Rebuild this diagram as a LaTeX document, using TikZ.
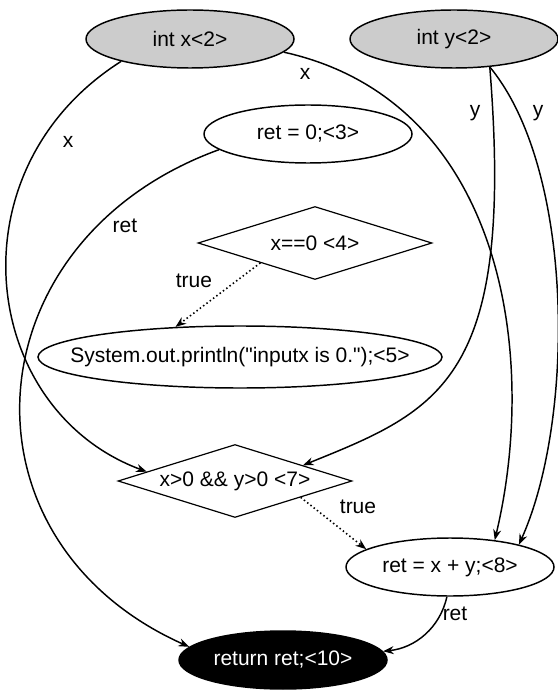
\documentclass[tikz,border=0pt]{standalone}
\usepackage{fontspec}
\newfontfamily\graphfont{Liberation Sans}
\usetikzlibrary{shapes.geometric,arrows.meta}
\definecolor{paramgray}{gray}{0.8}

\begin{document}
\begin{tikzpicture}[x=0.75pt, y=-0.75pt,
      font=\graphfont\fontsize{15.75}{18}\selectfont,
      stmt/.style={ellipse, draw, line width=1.1pt, inner sep=0pt,
        minimum width=156pt, minimum height=43.5pt},
      param/.style={stmt, fill=paramgray},
      exitnd/.style={stmt, fill=black, text=white},
      cond/.style={diamond, draw, line width=0.9pt, inner sep=0pt,
        shape aspect=3.2, minimum width=175.5pt, minimum height=54.75pt},
      lab/.style={anchor=base, inner sep=0pt},
      flow/.style={-{Stealth[length=8pt, width=6pt]}, line width=1.1pt},
      ctrl/.style={flow, dotted, line width=1.2pt}]
    \useasboundingbox (0,0) rectangle (557,691);

    % parameters
    \node[param] (ix) at (190,39) {int x<2>};
    \node[param] (iy) at (454,39) {int y<2>};
    % statements
    \node[stmt] (r0) at (308,134) {ret = 0;<3>};
    \node[cond] (c4) at (315,243) {x==0 <4>};
    \node[stmt, minimum width=303pt, minimum height=46.5pt,
      inner xsep=-22pt] (s5) at (240,357)
      {System.out.println("inputx is 0.");<5>};
    \node[cond] (c7) at (235,481) {x>0 \&\& y>0 <7>};
    \node[stmt] (r8) at (450,567) {ret = x + y;<8>};
    \node[exitnd] (rt) at (283,660) {return ret;<10>};

    % data flow
    \draw[flow] (ix.198) .. controls (-50,170) and (-20,410) .. (c7.174);
    \draw[flow] (ix.352) .. controls (500,100) and (540,350) .. (r8.31);
    \draw[flow] (iy.322) .. controls (515,380) and (440,410) .. (c7.13);
    \draw[flow] (iy.322) .. controls (575,170) and (575,420) .. (r8.18);
    \draw[flow] (r0.190) .. controls (-30,240) and (-50,540) .. (rt.172);
    \draw[flow] (r8.264) .. controls (440,628) and (415,648) .. (rt.5);
    % control flow
    \draw[ctrl] (c4.200) -- (s5.155);
    \draw[ctrl] (c7.346) -- (r8.168);

    % edge labels
    \node[lab] (lx1) at (68,148) {x};
    \node[lab] (lx2) at (305,80) {x};
    \node[lab] (ly1) at (475,116.5) {y};
    \node[lab] (ly2) at (538,116.5) {y};
    \node[lab] (lr1) at (125,233) {ret};
    \node[lab] (lr2) at (455,620) {ret};
    \node[lab] (lt1) at (194,287) {true};
    \node[lab] (lt2) at (358,513) {true};
  \end{tikzpicture}
\end{document}
